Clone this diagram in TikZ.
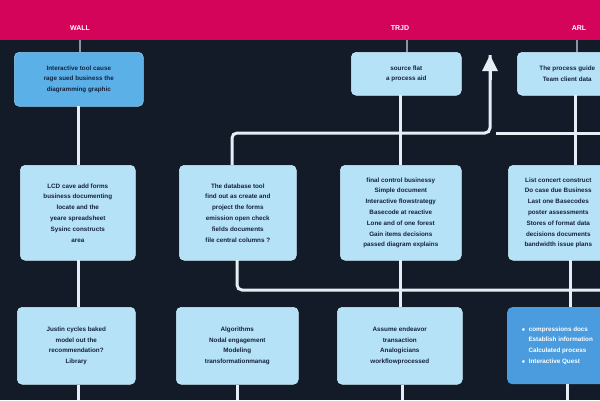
\documentclass[tikz,border=0pt]{standalone}
\usepackage{fontspec}
\setmainfont{Liberation Sans}
\usetikzlibrary{arrows.meta}
\definecolor{bg}{HTML}{121B27}
\definecolor{hdr}{HTML}{D4045A}
\definecolor{lbox}{HTML}{B6E2F7}
\definecolor{mbox}{HTML}{5CB0E8}
\definecolor{dbox}{HTML}{4A9CDE}
\definecolor{txt}{HTML}{15223C}
\definecolor{wire}{HTML}{E6EEF5}
\definecolor{stub}{HTML}{9090AE}
\tikzset{
  boxbase/.style={rounded corners=5pt, inner sep=2pt, align=center, font=\fontsize{6.3}{10.8}\selectfont\bfseries, text=txt, anchor=north west},
  lightbox/.style={boxbase, fill=lbox, draw=lbox!70!white, line width=0.6pt},
  midbox/.style={boxbase, fill=mbox, draw=mbox!70!white, line width=0.6pt},
  darkbox/.style={boxbase, fill=dbox, text=white, align=left},
  wireline/.style={draw=wire, line width=3pt},
  stubline/.style={draw=stub, line width=2pt},
  hdrlabel/.style={text=white, font=\fontsize{7}{8}\selectfont\bfseries}
}
\begin{document}
\begin{tikzpicture}[x=1pt,y=-1pt]
\useasboundingbox (0,0) rectangle (600,400);
\clip (0,0) rectangle (600,400);
\fill[bg] (0,0) rectangle (600,400);
\fill[hdr] (0,0) rectangle (600,40);
\node[hdrlabel] (h1) at (80,28) {WALL};
\node[hdrlabel] (h2) at (400,28) {TRJD};
\node[hdrlabel] (h3) at (579,28) {ARL};
\coordinate (s1) at (80,40);
\coordinate (s2) at (407,40);
\coordinate (s3) at (577,40);
% row 1
\node[midbox, minimum width=129pt, minimum height=54pt] (a1) at (14,52) {Interactive tool cause\\rage sued business the\\diagramming graphic};
\node[lightbox, minimum width=110pt, minimum height=43pt] (a3) at (351,52) {source flat\\a process aid};
\node[lightbox, minimum width=100pt, minimum height=43pt] (a4) at (517,52) {The process guide\\Team client data};
% row 2
\node[lightbox, minimum width=115pt, minimum height=95pt] (b1) at (20,165) {LCD cave add forms\\business documenting\\locate and the\\yeare spreadsheet\\Sysinc constructs\\area};
\node[lightbox, minimum width=117pt, minimum height=95pt] (b2) at (179,165) {The database tool\\find out as create and\\project the forms\\emission open check\\fields documents\\file central columns ?};
\node[lightbox, minimum width=121pt, minimum height=95pt] (b3) at (340,165) {final control businessy\\Simple document\\Interactive flowstrategy\\Basecode at reactive\\Lone and of one forest\\Gain items decisions\\passed diagram explains};
\node[lightbox, minimum width=100pt, minimum height=95pt] (b4) at (508,165) {List concert construct\\Do case due Business\\Last one Basecodes\\poster assessments\\Stores of format data\\decisions documents\\bandwidth issue plans};
% row 3
\node[lightbox, minimum width=118pt, minimum height=77pt] (c1) at (17,307) {Justin cycles baked\\model out the\\recommendation?\\Library};
\node[lightbox, minimum width=122pt, minimum height=77pt] (c2) at (176,307) {Algorithms\\Nodal engagement\\Modeling\\transformationmanag};
\node[lightbox, minimum width=125pt, minimum height=77pt] (c3) at (337,307) {Assume endeavor\\transaction\\Analogicians\\workflowprocessed};
\node[darkbox, minimum width=100pt, minimum height=77pt, inner xsep=7pt] (c4) at (507,307) {$\bullet$\ \ compressions docs\\\ \ \ \ Establish information\\\ \ \ \ Calculated process\\$\bullet$\ \ Interactive Quest};
% bottom ends
\coordinate (e1) at (78,400);
\coordinate (e2) at (237,400);
\coordinate (e3) at (402,400);
\coordinate (e4) at (567,400);
% header stubs
\draw[stubline] (s1) -- (s1 |- a1.north);
\draw[stubline] (s2) -- (s2 |- a3.north);
\draw[stubline] (s3) -- (s3 |- a4.north);
% upper connections
\coordinate (up) at (490,55);
\coordinate (bus1) at (600,133);
\draw[wireline] (78,106) -- (78,165);
\draw[wireline, rounded corners=5pt] (232,165) -- (232,133) -- (490,133) -- (up);
\draw[wire, line width=3pt, -{Triangle[width=15pt,length=16pt]}] (490,80) -- (up);
\draw[wireline] (496,133) -- (bus1);
\draw[wireline] (400,95) -- (400,165);
\draw[wireline] (575,95) -- (575,165);
% lower connections
\coordinate (bus2) at (600,290);
\draw[wireline] (78,260) -- (78,307);
\draw[wireline, rounded corners=5pt] (237,260) -- (237,290) -- (bus2);
\draw[wireline] (400,260) -- (400,307);
\draw[wireline] (570,260) -- (570,307);
% bottom stubs
\draw[wireline] (e1 |- c1.south) -- (e1);
\draw[wireline] (e2 |- c2.south) -- (e2);
\draw[wireline] (e3 |- c3.south) -- (e3);
\draw[wireline] (e4 |- c4.south) -- (e4);
\end{tikzpicture}
\end{document}
